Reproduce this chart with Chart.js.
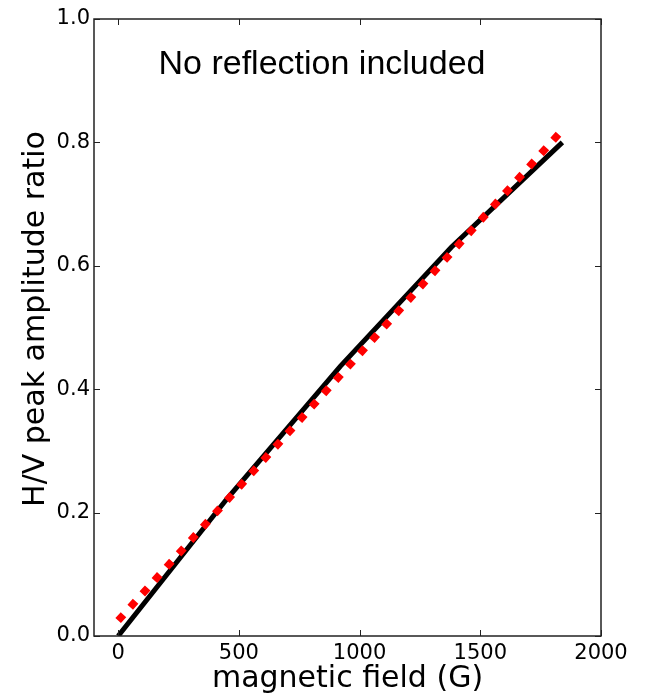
<!DOCTYPE html>
<html>
<head>
<meta charset="utf-8">
<title>H/V peak amplitude ratio</title>
<script src="https://cdn.jsdelivr.net/npm/chart.js@4/dist/chart.umd.min.js"></script>
<style>
    html, body { margin: 0; padding: 0; background: #fff; }
    canvas { display: block; }
</style>
</head>
<body>
<canvas id="hvChart" width="645" height="694"></canvas>
<script>
/* =========================
   DATA
========================== */
// simulated curve (black, solid)
const simField = [0, 450, 920, 1380, 1840];
const simRatio = [0.0, 0.222, 0.437, 0.630, 0.800];

// linear fit (red, dotted)
const fitField = [0, 1840];
const fitRatio = [0.025, 0.820];

const xTicks = [0, 500, 1000, 1500, 2000];
const yTicks = [0.0, 0.2, 0.4, 0.6, 0.8, 1.0];

const noteText = "No reflection included";
const yTitle = "H/V peak amplitude ratio";

/* =========================
   HELPERS
========================== */
function toPoints(xs, ys) {
    return xs.map((x, i) => ({ x, y: ys[i] }));
}

// frame + inward ticks on all four sides (matplotlib look)
const frameTicks = {
    id: "frameTicks",
    afterDatasetsDraw(chart) {
        const { ctx, chartArea: a, scales } = chart;
        const len = 6;
        ctx.save();
        ctx.strokeStyle = "#222";
        ctx.lineWidth = 1;
        ctx.beginPath();
        xTicks.forEach(v => {
            const px = Math.round(scales.x.getPixelForValue(v)) + 0.5;
            ctx.moveTo(px, a.bottom); ctx.lineTo(px, a.bottom - len);
            ctx.moveTo(px, a.top); ctx.lineTo(px, a.top + len);
        });
        yTicks.forEach(v => {
            const py = Math.round(scales.y.getPixelForValue(v)) + 0.5;
            ctx.moveTo(a.left, py); ctx.lineTo(a.left + len, py);
            ctx.moveTo(a.right, py); ctx.lineTo(a.right - len, py);
        });
        ctx.stroke();
        ctx.lineWidth = 1.5;
        ctx.strokeRect(a.left, a.top, a.right - a.left, a.bottom - a.top);
        ctx.restore();
    }
};

// annotation + y axis title (title sits a bit above the axis centre)
const texts = {
    id: "texts",
    afterDraw(chart) {
        const { ctx } = chart;
        ctx.save();
        ctx.fillStyle = "#000";
        ctx.font = '34px "Liberation Sans", Arial, sans-serif';
        ctx.textAlign = "center";
        ctx.textBaseline = "alphabetic";
        ctx.fillText(noteText, 322, 74);

        ctx.translate(36.5, 319);
        ctx.rotate(-Math.PI / 2);
        ctx.font = '30px "DejaVu Sans"';
        ctx.textBaseline = "middle";
        ctx.fillText(yTitle, 0, 0);
        ctx.restore();
    }
};

/* =========================
   CHART
========================== */
const ctx = document.getElementById("hvChart").getContext("2d");

new Chart(ctx, {
    type: "line",
    data: {
        datasets: [
            {
                label: "simulation",
                data: toPoints(simField, simRatio),
                borderColor: "#000",
                borderWidth: 5,
                pointRadius: 0,
                tension: 0,
                order: 2
            },
            {
                label: "fit",
                data: toPoints(fitField, fitRatio),
                borderColor: "#ff0000",
                borderWidth: 7.5,
                borderDash: [8, 10],
                borderCapStyle: "butt",
                pointRadius: 0,
                tension: 0,
                order: 1
            }
        ]
    },
    options: {
        responsive: false,
        animation: false,
        devicePixelRatio: 1,
        layout: {
            padding: { top: 19, right: 44, left: 0, bottom: 0 }
        },
        plugins: {
            legend: { display: false },
            tooltip: { enabled: false }
        },
        scales: {
            x: {
                type: "linear",
                min: -100,
                max: 2000,
                afterFit(scale) { scale.height = 58; },
                afterBuildTicks(scale) { scale.ticks = xTicks.map(v => ({ value: v })); },
                grid: { display: false, drawTicks: false },
                border: { display: false },
                ticks: {
                    padding: 5,
                    color: "#000",
                    font: { family: '"DejaVu Sans"', size: 21 },
                    maxRotation: 0,
                    callback: v => String(v)
                },
                title: {
                    display: true,
                    text: "magnetic field (G)",
                    color: "#000",
                    font: { family: '"DejaVu Sans"', size: 30, lineHeight: 1 },
                    padding: 0
                }
            },
            y: {
                type: "linear",
                min: 0,
                max: 1,
                afterFit(scale) { scale.width = 94; },
                afterBuildTicks(scale) { scale.ticks = yTicks.map(v => ({ value: v })); },
                grid: { display: false, drawTicks: false },
                border: { display: false },
                ticks: {
                    padding: 4,
                    color: "#000",
                    font: { family: '"DejaVu Sans"', size: 21 },
                    callback: v => Number(v).toFixed(1)
                }
            }
        }
    },
    plugins: [frameTicks, texts]
});
</script>
</body>
</html>
